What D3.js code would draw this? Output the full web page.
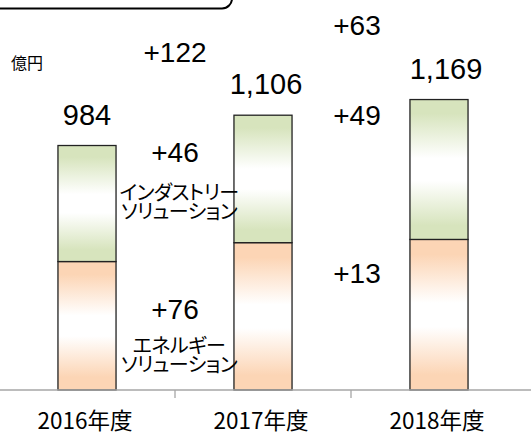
<!DOCTYPE html>
<html>
<head>
<meta charset="utf-8">
<script src="https://cdn.jsdelivr.net/npm/d3@7"></script>
<style>
  body { margin: 0; background: #fff; }
  svg { display: block; }
</style>
</head>
<body>
<div id="container"></div>
<script>
var width = 531,
    height = 436;

// data (億円)
var years = ['2016年度', '2017年度', '2018年度'];
var energy = [517, 593, 606];      // エネルギーソリューション
var industry = [467, 513, 563];    // インダストリーソリューション
var totals = ['984', '1,106', '1,169'];
var diffTotal = ['+122', '+63'];
var diffIndustry = ['+46', '+49'];
var diffEnergy = ['+76', '+13'];
var segNames = [['インダストリー', 'ソリューション'], ['エネルギー', 'ソリューション']];

var green = '#d7e4bd',
    orange = '#fcd5b5';

var svg = d3.select('#container').append('svg')
    .attr('width', width)
    .attr('height', height);

var defs = svg.append('defs');
function grad(id, c) {
  var g = defs.append('linearGradient')
      .attr('id', id)
      .attr('x1', 0).attr('y1', 0).attr('x2', 0).attr('y2', 1);
  [[0, c], [0.1, c], [0.42, '#fff'], [0.58, '#fff'], [0.9, c], [1, c]].forEach(function(s) {
    g.append('stop').attr('offset', s[0]).attr('stop-color', s[1]);
  });
}
grad('gGreen', green);
grad('gOrange', orange);

var x = d3.scaleBand()
    .domain(years)
    .range([-1, 527])
    .paddingInner(0.67)
    .paddingOuter(0.335);

var y = d3.scaleLinear()
    .domain([0, 1300])
    .range([390, 67]);

// top box (partly cut off)
svg.append('rect')
    .attr('x', -20).attr('y', -30)
    .attr('width', 252).attr('height', 38.5)
    .attr('rx', 10)
    .style('fill', 'none')
    .style('stroke', '#000')
    .style('stroke-width', 2);

// unit
svg.append('text')
    .attr('x', 11).attr('y', 69)
    .style('font-family', '"Noto Sans CJK JP", sans-serif')
    .style('font-size', '16px')
    .text('億円');

// stacked bars
var stack = years.map(function(d, i) {
  return [
    {cat: d, y0: 0, y1: energy[i], fill: 'url(#gOrange)'},
    {cat: d, y0: energy[i], y1: energy[i] + industry[i], fill: 'url(#gGreen)'}
  ];
});

svg.selectAll('.bar')
    .data(d3.merge(stack))
    .enter()
    .append('rect')
    .attr('class', 'bar')
    .attr('x', function(d) { return x(d.cat); })
    .attr('width', x.bandwidth())
    .attr('y', function(d) { return y(d.y1); })
    .attr('height', function(d) { return y(d.y0) - y(d.y1); })
    .style('fill', function(d) { return d.fill; })
    .style('stroke', '#222')
    .style('stroke-width', 1.3);

// axis
var xAxis = d3.axisBottom(x).tickSize(0).tickPadding(0);
var ax = svg.append('g')
    .attr('transform', 'translate(0,' + y(0) + ')')
    .call(xAxis);
ax.select('.domain').remove();
ax.selectAll('text').remove();
ax.append('line')
    .attr('x1', 0).attr('x2', width)
    .style('stroke', '#a6a6a6').style('stroke-width', 1.3);
var step = x.step();
var bounds = [1, 2].map(function(i) { return x.range()[0] + step * i; });
ax.selectAll('.sep')
    .data(bounds)
    .enter()
    .append('line')
    .attr('x1', function(d) { return d; })
    .attr('x2', function(d) { return d; })
    .attr('y1', 0).attr('y2', 8)
    .style('stroke', '#a6a6a6').style('stroke-width', 1.3);

svg.selectAll('.cat')
    .data(years)
    .enter()
    .append('text')
    .attr('class', 'cat')
    .attr('x', function(d) { return x(d) + x.bandwidth() / 2 - 2; })
    .attr('y', 429)
    .attr('text-anchor', 'middle')
    .style('font-family', '"Noto Sans CJK JP", sans-serif')
    .style('font-size', '22.5px')
    .text(function(d) { return d; });

// totals
var numFont = '"Liberation Sans", Arial, sans-serif';
svg.selectAll('.total')
    .data(years)
    .enter()
    .append('text')
    .attr('class', 'total')
    .attr('x', function(d, i) { return x(d) + x.bandwidth() / 2 + [0, 3, 7][i]; })
    .attr('y', function(d, i) { return y(energy[i] + industry[i]) - 21; })
    .attr('text-anchor', 'middle')
    .style('font-family', numFont)
    .style('font-size', '29px')
    .text(function(d, i) { return totals[i]; });

// differences between years
var dx = [0, 6];
function diffLabels(cls, arr, ys) {
  svg.selectAll('.' + cls)
      .data(arr)
      .enter()
      .append('text')
      .attr('class', cls)
      .attr('x', function(d, i) { return bounds[i] + dx[i]; })
      .attr('y', function(d, i) { return ys[i]; })
      .attr('text-anchor', 'middle')
      .style('font-family', numFont)
      .style('font-size', '28px')
      .text(function(d) { return d; });
}
diffLabels('dTot', diffTotal, [62, 35]);
diffLabels('dInd', diffIndustry, [162, 125]);
diffLabels('dEne', diffEnergy, [319, 283]);

// segment names, two lines in one text
var nameY = [200, 353];
segNames.forEach(function(lines, k) {
  var t = svg.append('text')
      .attr('x', bounds[0] + 4)
      .attr('y', nameY[k])
      .attr('text-anchor', 'middle')
      .style('font-family', '"Noto Sans CJK JP", sans-serif')
      .style('font-size', '20px')
      .style('font-feature-settings', '"palt" 1')
      .style('letter-spacing', '-0.6px');
  t.selectAll('tspan')
      .data(lines)
      .enter()
      .append('tspan')
      .attr('x', bounds[0] + 4)
      .attr('dy', function(d, j) { return j ? 18.5 : 0; })
      .text(function(d) { return d; });
});
</script>
</body>
</html>
